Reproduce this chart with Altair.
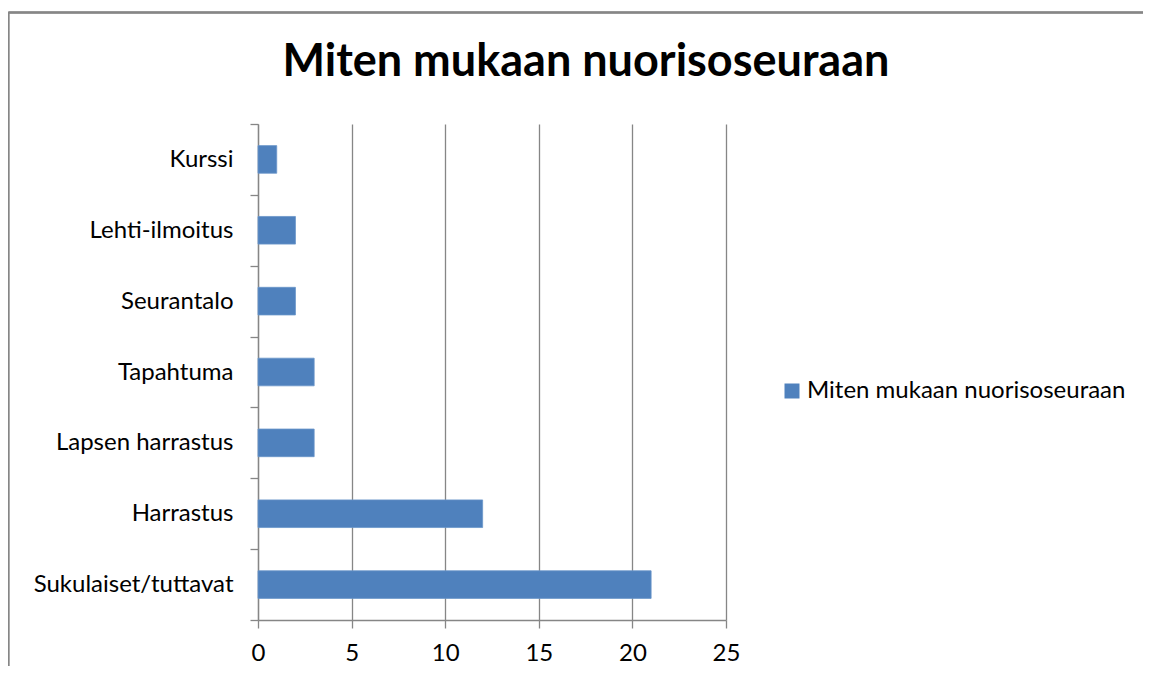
import altair as alt
import pandas as pd

categories = ["Kurssi", "Lehti-ilmoitus", "Seurantalo", "Tapahtuma",
              "Lapsen harrastus", "Harrastus", "Sukulaiset/tuttavat"]
values = [1, 2, 2, 3, 3, 12, 21]
series_name = "Miten mukaan nuorisoseuraan"
x_ticks = [0, 5, 10, 15, 20, 25]

df = pd.DataFrame({"Kategoria": categories, "Arvo": values, "Sarja": series_name})

FONT = "Lato"
GRAY = "#868686"
W, H = 468, 496
PL, PT, PR, PB = 250, 116, 417, 46

bars = alt.Chart(df).mark_bar(color="#4F81BD", stroke="#6A95C9", strokeWidth=0.8,
                              height=alt.RelativeBandSize(0.39)).encode(
    x=alt.X("Arvo:Q",
            scale=alt.Scale(domain=[0, 25], nice=False),
            axis=alt.Axis(values=x_ticks, title=None, grid=True, gridColor=GRAY,
                          gridWidth=1.3, domainColor=GRAY, domainWidth=1.3,
                          tickColor=GRAY, tickWidth=1.3, tickSize=8,
                          labelFont=FONT, labelFontSize=24, labelColor="#000000",
                          labelPadding=13, labelLimit=0, labelFlush=False)),
    y=alt.Y("Kategoria:N", sort=categories,
            scale=alt.Scale(paddingInner=0, paddingOuter=0),
            axis=alt.Axis(title=None, tickBand="extent", domainColor=GRAY,
                          domainWidth=1.3, tickColor=GRAY, tickWidth=1.3,
                          tickSize=8, labelFont=FONT, labelFontSize=24,
                          labelColor="#000000", labelPadding=17, grid=False,
                          labelLimit=0)),
    color=alt.Color("Sarja:N",
                    scale=alt.Scale(domain=[series_name], range=["#4F81BD"]),
                    legend=alt.Legend(title=None, orient="none", legendX=522,
                                      legendY=255, symbolType="square",
                                      symbolSize=225, symbolStrokeWidth=0,
                                      symbolOpacity=1, labelLimit=0,
                                      labelFont=FONT, labelFontSize=24,
                                      labelColor="#000000", labelOffset=3)),
)

frame_left = alt.Chart(df).mark_rule(color=GRAY, strokeWidth=1.3).encode(
    x=alt.value(-249.5), y=alt.value(-111.5), y2=alt.value(H + PB))
frame_top = alt.Chart(df).mark_rule(color=GRAY, strokeWidth=1.3).encode(
    y=alt.value(-111.5), x=alt.value(-249.5), x2=alt.value(W + PR))

chart = alt.layer(frame_left, frame_top, bars).properties(
    width=W, height=H,
    title=alt.TitleParams(series_name, font=FONT, fontSize=45, fontWeight="bold",
                          color="#000000", anchor="middle", dx=94, dy=109,
                          baseline="alphabetic", offset=0),
    autosize=alt.AutoSizeParams(type="none"),
    padding={"left": PL, "top": PT, "right": PR, "bottom": PB},
).configure(background="white").configure_view(strokeWidth=0)

chart.save("out.html", embed_options={"renderer": "svg", "actions": False})
